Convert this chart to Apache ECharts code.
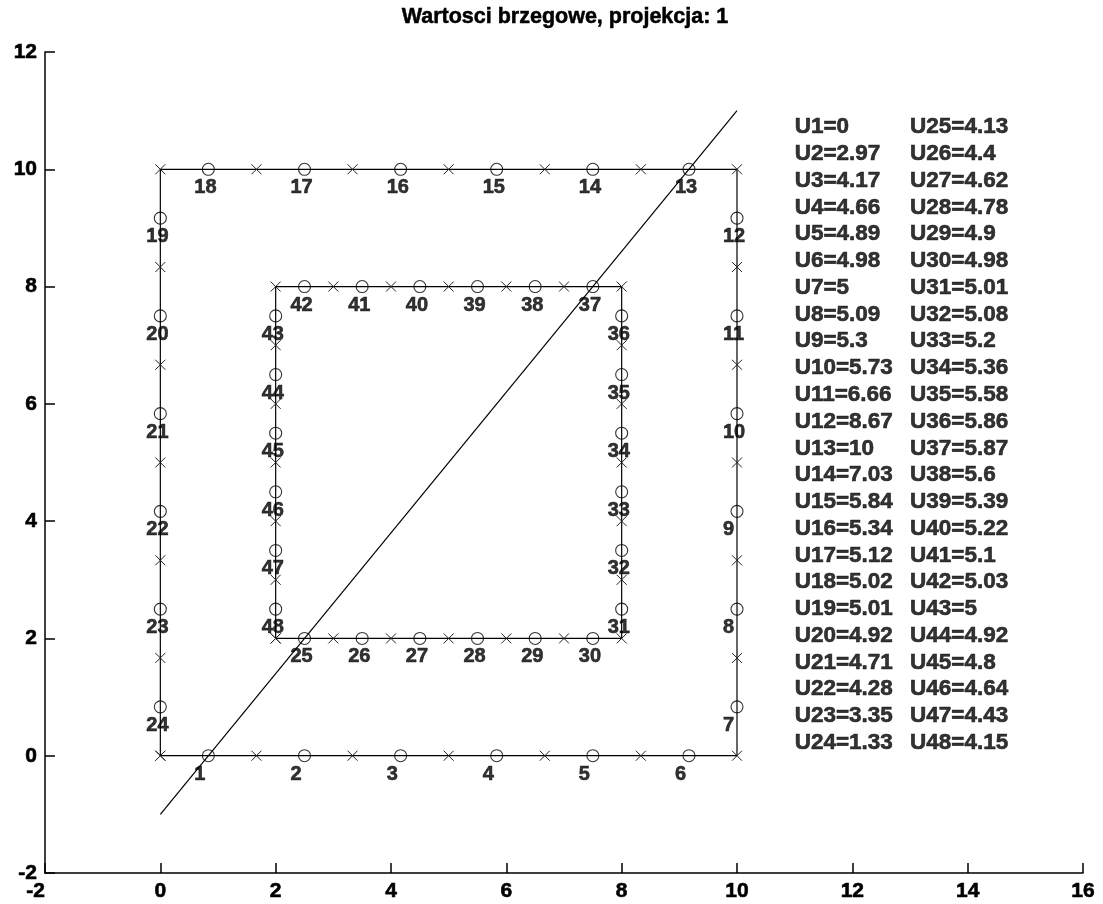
<!DOCTYPE html>
<html><head><meta charset="utf-8">
<script src="https://cdn.jsdelivr.net/npm/echarts@6/dist/echarts.min.js"></script>
<style>html,body{margin:0;padding:0;background:#fff}#c{width:1103px;height:904px}</style>
</head><body><div id="c"></div>
<script>
// ---- data ----
const titleText = 'Wartosci brzegowe, projekcja: 1';
const xRange = [-2, 16];
const yRange = [-2, 12];
const tickStep = 2;

// element nodes along one edge of each square
const outerEdge = [0, 1.667, 3.333, 5, 6.667, 8.333, 10];
const innerEdge = [2, 3, 4, 5, 6, 7, 8];

// boundary element midpoints 1..48
const midX = [0.833, 2.5, 4.167, 5.833, 7.5, 9.167,
  10, 10, 10, 10, 10, 10,
  9.167, 7.5, 5.833, 4.167, 2.5, 0.833,
  0, 0, 0, 0, 0, 0,
  2.5, 3.5, 4.5, 5.5, 6.5, 7.5,
  8, 8, 8, 8, 8, 8,
  7.5, 6.5, 5.5, 4.5, 3.5, 2.5,
  2, 2, 2, 2, 2, 2];
const midY = [0, 0, 0, 0, 0, 0,
  0.833, 2.5, 4.167, 5.833, 7.5, 9.167,
  10, 10, 10, 10, 10, 10,
  9.167, 7.5, 5.833, 4.167, 2.5, 0.833,
  2, 2, 2, 2, 2, 2,
  2.5, 3.5, 4.5, 5.5, 6.5, 7.5,
  8, 8, 8, 8, 8, 8,
  7.5, 6.5, 5.5, 4.5, 3.5, 2.5];

// boundary values U1..U48
const uValues = [0, 2.97, 4.17, 4.66, 4.89, 4.98, 5, 5.09, 5.3, 5.73, 6.66, 8.67,
  10, 7.03, 5.84, 5.34, 5.12, 5.02, 5.01, 4.92, 4.71, 4.28, 3.35, 1.33,
  4.13, 4.4, 4.62, 4.78, 4.9, 4.98, 5.01, 5.08, 5.2, 5.36, 5.58, 5.86,
  5.87, 5.6, 5.39, 5.22, 5.1, 5.03, 5, 4.92, 4.8, 4.64, 4.43, 4.15];

// projection line
const lineX = [0, 10];
const lineY = [-1, 11];

// ---- build ----
const FONT = '"Liberation Sans", Arial, Helvetica, sans-serif';
function loop(e) {
  const a = e[0], b = e[e.length - 1], n = e.length, pts = [];
  for (let i = 0; i < n; i++) pts.push([e[i], a]);
  for (let i = 1; i < n; i++) pts.push([b, e[i]]);
  for (let i = n - 2; i >= 0; i--) pts.push([e[i], b]);
  for (let i = n - 2; i >= 0; i--) pts.push([a, e[i]]);
  return pts;
}
const crossSym = 'path://M0,0L10,10M10,0L0,10';
function squareSeries(e) {
  return {
    type: 'line', data: loop(e), symbol: crossSym, symbolSize: 10, showAllSymbol: true,
    lineStyle: { color: '#000', width: 1.2 },
    itemStyle: { color: 'rgba(0,0,0,0)', borderColor: '#222', borderWidth: 1 },
    silent: true, z: 2
  };
}
const mids = midX.map((x, i) => [x, midY[i]]);
const rowsPerCol = 24;
const uText = uValues.map((v, i) => {
  const col = Math.floor(i / rowsPerCol), row = i % rowsPerCol;
  return { value: [11 + 2 * col, 10.72 - row * 0.4565], name: 'U' + (i + 1) + '=' + String(v) };
});

const heavy = { textBorderColor: '#000', textBorderWidth: 0.6 };
const axisCommon = {
  type: 'value', interval: tickStep,
  axisLine: { show: true, onZero: false, lineStyle: { color: '#000', width: 1.5 } },
  axisTick: { show: true, inside: true, length: 10, lineStyle: { color: '#000', width: 1.5 } },
  splitLine: { show: false },
  axisLabel: Object.assign({ color: '#000', fontSize: 21, fontWeight: 'bold', fontFamily: FONT, margin: 8 }, heavy)
};

const chart = echarts.init(document.getElementById('c'), null, { renderer: 'canvas' });
chart.setOption({
  animation: false,
  backgroundColor: '#fff',
  grid: { left: 45, right: 20, top: 52, bottom: 31, containLabel: false, outerBoundsMode: 'none' },
  xAxis: Object.assign({}, axisCommon, { min: xRange[0], max: xRange[1],
    axisLabel: Object.assign({}, axisCommon.axisLabel, { alignMinLabel: 'right' }) }),
  yAxis: Object.assign({}, axisCommon, { min: yRange[0], max: yRange[1] }),
  graphic: [{
    type: 'text', x: 565, y: 17,
    style: Object.assign({ text: titleText, fontSize: 21.5, fontWeight: 'bold', fontFamily: FONT, fill: '#000', align: 'center', verticalAlign: 'middle', stroke: '#000', lineWidth: 0.5 })
  }],
  series: [
    squareSeries(outerEdge),
    squareSeries(innerEdge),
    {
      type: 'line', data: lineX.map((x, i) => [x, lineY[i]]), symbol: 'none',
      lineStyle: { color: '#000', width: 1.2 }, silent: true, z: 3
    },
    {
      type: 'scatter', data: mids, symbol: 'circle', symbolSize: 12,
      itemStyle: { color: 'rgba(0,0,0,0)', borderColor: '#000', borderWidth: 1.1 },
      label: Object.assign({
        show: true, position: 'inside', align: 'left', verticalAlign: 'middle', offset: [-14, 18.5],
        formatter: p => String(p.dataIndex + 1),
        color: '#000', fontSize: 20, fontWeight: 'bold', fontFamily: FONT
      }, heavy),
      silent: true, z: 4
    },
    {
      type: 'scatter', data: uText, symbolSize: 1,
      itemStyle: { color: 'rgba(0,0,0,0)' },
      label: Object.assign({
        show: true, position: 'inside', align: 'left', verticalAlign: 'middle', offset: [0, 0],
        formatter: p => p.name,
        color: '#000', fontSize: 22.5, fontWeight: 'bold', fontFamily: FONT
      }, heavy),
      silent: true, z: 5
    }
  ]
});
</script>
</body></html>
